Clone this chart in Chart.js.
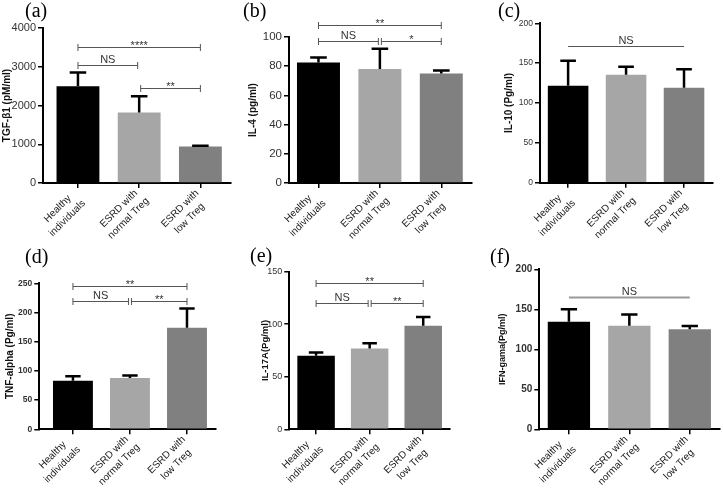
<!DOCTYPE html>
<html>
<head>
<meta charset="utf-8">
<script src="https://cdn.jsdelivr.net/npm/chart.js@4.4.0/dist/chart.umd.min.js"></script>
<style>
  body { margin: 0; background: #fff; }
  #wrap { position: relative; width: 723px; height: 491px; overflow: hidden; }
  #wrap canvas { position: absolute; }
</style>
</head>
<body>
<div id="wrap"></div>
<script>
// groups on the x axis (two-line labels)
const groups = [["Healthy", "individuals"], ["ESRD with", "normal Treg"], ["ESRD with", "low Treg"]];
const barColors = ["#000000", "#a6a6a6", "#808080"];

// mean and upper error (SEM) per group, significance brackets [from, to, y, text]
const tgfMean = [2500, 1820, 940];
const tgfSem = [350, 420, 20];
const tgfSig = [[0, 2, 3500, "****"], [0, 1, 3050, "NS"], [1, 2, 2450, "**"]];

const il4Mean = [82.5, 78, 75];
const il4Sem = [3.5, 14, 2];
const il4Sig = [[0, 2, 108.5, "**"], [0, 1, 97.5, "NS"], [1, 2, 97.5, "*"]];

const il10Mean = [121.5, 135.5, 119];
const il10Sem = [31.5, 10, 23.5];
const il10Sig = [[0, 2, 172, "NS"]];

const tnfMean = [83, 88, 174];
const tnfSem = [8, 4, 33];
const tnfSig = [[0, 2, 245, "**"], [0, 1, 220, "NS"], [1, 2, 220, "**"]];

const il17Mean = [70, 77, 98.5];
const il17Sem = [3, 5, 8.5];
const il17Sig = [[0, 2, 139, "**"], [0, 1, 120, "NS"], [1, 2, 120, "**"]];

const ifnMean = [134.5, 129.5, 125];
const ifnSem = [15.5, 14, 4];
const ifnSig = [[0, 2, 165, "NS"]];

// panel boxes and plot areas in page pixels
const panels = [
  { tag: "(a)", title: "TGF-\u03b21 (pM/ml)", mean: tgfMean, sem: tgfSem, sig: tgfSig, yMax: 4000, step: 1000,
    box: [0, 0, 241, 245], area: [43, 28, 231, 183], xMin: -0.571, tag_xy: [25, 17],
    titleX: 7, titleSize: 10, tickSize: 11, tickBold: false, sigStyle: "bracket" },
  { tag: "(b)", title: "IL-4 (pg/ml)", mean: il4Mean, sem: il4Sem, sig: il4Sig, yMax: 100, step: 20,
    box: [241, 0, 241, 245], area: [289, 37, 472, 183], xMin: -0.48, tag_xy: [243, 17],
    titleX: 12, titleSize: 10, tickSize: 11.5, tickBold: false, sigStyle: "bracket" },
  { tag: "(c)", title: "IL-10 (Pg/ml)", mean: il10Mean, sem: il10Sem, sig: il10Sig, yMax: 200, step: 50,
    box: [482, 0, 241, 245], area: [540, 23.3, 713, 182.7], xMin: -0.485, tag_xy: [498, 17],
    titleX: 27, titleSize: 10, tickSize: 8.5, tickBold: false, sigStyle: "line" },
  { tag: "(d)", title: "TNF-alpha (Pg/ml)", mean: tnfMean, sem: tnfSem, sig: tnfSig, yMax: 250, step: 50,
    box: [0, 245, 241, 246], area: [39.3, 283.3, 215.5, 429.3], xMin: -0.59, tag_xy: [25, 263],
    titleX: 10, titleSize: 10, tickSize: 8.5, tickBold: true, sigStyle: "bracket" },
  { tag: "(e)", title: "IL-17A(Pg/ml)", mean: il17Mean, sem: il17Sem, sig: il17Sig, yMax: 150, step: 50,
    box: [241, 245, 241, 246], area: [289.3, 271.7, 450, 429.3], xMin: -0.5, tag_xy: [250, 262],
    titleX: 24, titleSize: 9.5, tickSize: 9, tickBold: false, sigStyle: "bracket" },
  { tag: "(f)", title: "IFN-gama(Pg/ml)", mean: ifnMean, sem: ifnSem, sig: ifnSig, yMax: 200, step: 50,
    box: [482, 245, 241, 246], area: [539.3, 269.3, 720, 429.3], xMin: -0.49, tag_xy: [490, 263],
    titleX: 21, titleSize: 9, tickSize: 10, tickBold: true, sigStyle: "grayline" }
];

const extras = {
  id: "extras",
  afterDatasetsDraw(chart) {
    const p = panels[+chart.canvas.dataset.idx];
    const ctx = chart.ctx;
    const x = chart.scales.x, y = chart.scales.y;
    const base = chart.chartArea.bottom;
    const step = x.getPixelForValue(1) - x.getPixelForValue(0);
    const cap = step * 0.27;
    ctx.save();
    // upper error bars
    ctx.strokeStyle = "#000";
    ctx.lineWidth = 2.5;
    p.mean.forEach((m, i) => {
      const px = x.getPixelForValue(i);
      const y0 = y.getPixelForValue(m), y1 = y.getPixelForValue(m + p.sem[i]);
      ctx.beginPath();
      ctx.moveTo(px, y0);
      ctx.lineTo(px, y1);
      ctx.moveTo(px - cap / 2, y1);
      ctx.lineTo(px + cap / 2, y1);
      ctx.stroke();
    });
    // significance marks
    p.sig.forEach(([a, b, v, txt]) => {
      let xa = x.getPixelForValue(a), xb = x.getPixelForValue(b);
      if (a === 1) xa += 1.5;
      if (b === 1) xb -= 1.5;
      const py = Math.round(y.getPixelForValue(v)) + 0.5;
      ctx.beginPath();
      if (p.sigStyle === "grayline") {
        ctx.strokeStyle = "#9a9a9a";
        ctx.lineWidth = 2;
      } else {
        ctx.strokeStyle = "#555";
        ctx.lineWidth = 1;
      }
      ctx.moveTo(xa, py);
      ctx.lineTo(xb, py);
      if (p.sigStyle === "bracket") {
        ctx.moveTo(xa, py - 3.5);
        ctx.lineTo(xa, py + 3.5);
        ctx.moveTo(xb, py - 3.5);
        ctx.lineTo(xb, py + 3.5);
      }
      ctx.stroke();
      ctx.fillStyle = "#333";
      ctx.font = '11px "Liberation Sans", Arial, sans-serif';
      ctx.textAlign = "center";
      ctx.textBaseline = "alphabetic";
      ctx.fillText(txt, (xa + xb) / 2, py - (txt.startsWith("*") ? -1 : 3));
    });
    // rotated two-line group labels, lines centred
    ctx.fillStyle = "#1a1a1a";
    ctx.font = '10px "Liberation Sans", Arial, sans-serif';
    ctx.textAlign = "center";
    ctx.textBaseline = "middle";
    groups.forEach((lines, i) => {
      const px = x.getPixelForValue(i);
      ctx.save();
      ctx.translate(px - 15.5, base + 30.5);
      ctx.rotate(-Math.PI / 4);
      ctx.fillText(lines[0], 0, -6.75);
      ctx.fillText(lines[1], 0, 6.75);
      ctx.restore();
    });
    // panel tag
    ctx.fillStyle = "#000";
    ctx.font = '20px "Liberation Serif", "Times New Roman", serif';
    ctx.textAlign = "left";
    ctx.textBaseline = "alphabetic";
    ctx.fillText(p.tag, p.tag_xy[0] - p.box[0], p.tag_xy[1] - p.box[1]);
    ctx.restore();
  }
};

const wrap = document.getElementById("wrap");
panels.forEach((p, idx) => {
  const [bx, by, bw, bh] = p.box;
  const [L, T, R, B] = p.area;
  const cv = document.createElement("canvas");
  cv.width = bw;
  cv.height = bh;
  cv.style.left = bx + "px";
  cv.style.top = by + "px";
  cv.dataset.idx = idx;
  wrap.appendChild(cv);
  const titleLine = p.titleSize * 1.2;

  new Chart(cv.getContext("2d"), {
    type: "bar",
    data: {
      datasets: [{
        data: p.mean.map((m, i) => ({ x: i, y: m })),
        backgroundColor: barColors,
        borderWidth: 0,
        barPercentage: 0.7,
        categoryPercentage: 1
      }]
    },
    options: {
      responsive: false,
      animation: false,
      layout: { padding: { left: 0, top: T - by, right: bx + bw - R, bottom: 0 } },
      plugins: { legend: { display: false }, tooltip: { enabled: false } },
      scales: {
        x: {
          type: "linear",
          offset: false,
          min: p.xMin,
          max: 2.5,
          afterBuildTicks: s => { s.ticks = [0, 1, 2].map(v => ({ value: v })); },
          afterFit: s => { s.height = by + bh - B; },
          border: { color: "#000", width: 2 },
          grid: { offset: false, drawOnChartArea: false, drawTicks: true, tickLength: 5, color: "#000", lineWidth: 1.5 },
          ticks: { display: false }
        },
        y: {
          min: 0,
          max: p.yMax,
          afterFit: s => { s.width = L - bx; },
          border: { color: "#000", width: 2 },
          grid: { drawOnChartArea: false, drawTicks: true, tickLength: 5, color: "#000", lineWidth: 1.5 },
          ticks: {
            stepSize: p.step,
            padding: 2,
            color: "#333",
            callback: v => String(v),
            font: { family: '"Liberation Sans", Arial, sans-serif', size: p.tickSize, weight: p.tickBold ? "bold" : "normal" }
          },
          title: {
            display: true,
            text: p.title,
            color: "#111",
            padding: { top: Math.max(p.titleX - titleLine / 2, 0), bottom: 0 },
            font: { family: '"Liberation Sans", Arial, sans-serif', size: p.titleSize, weight: "bold" }
          }
        }
      }
    },
    plugins: [extras]
  });
});
</script>
</body>
</html>
